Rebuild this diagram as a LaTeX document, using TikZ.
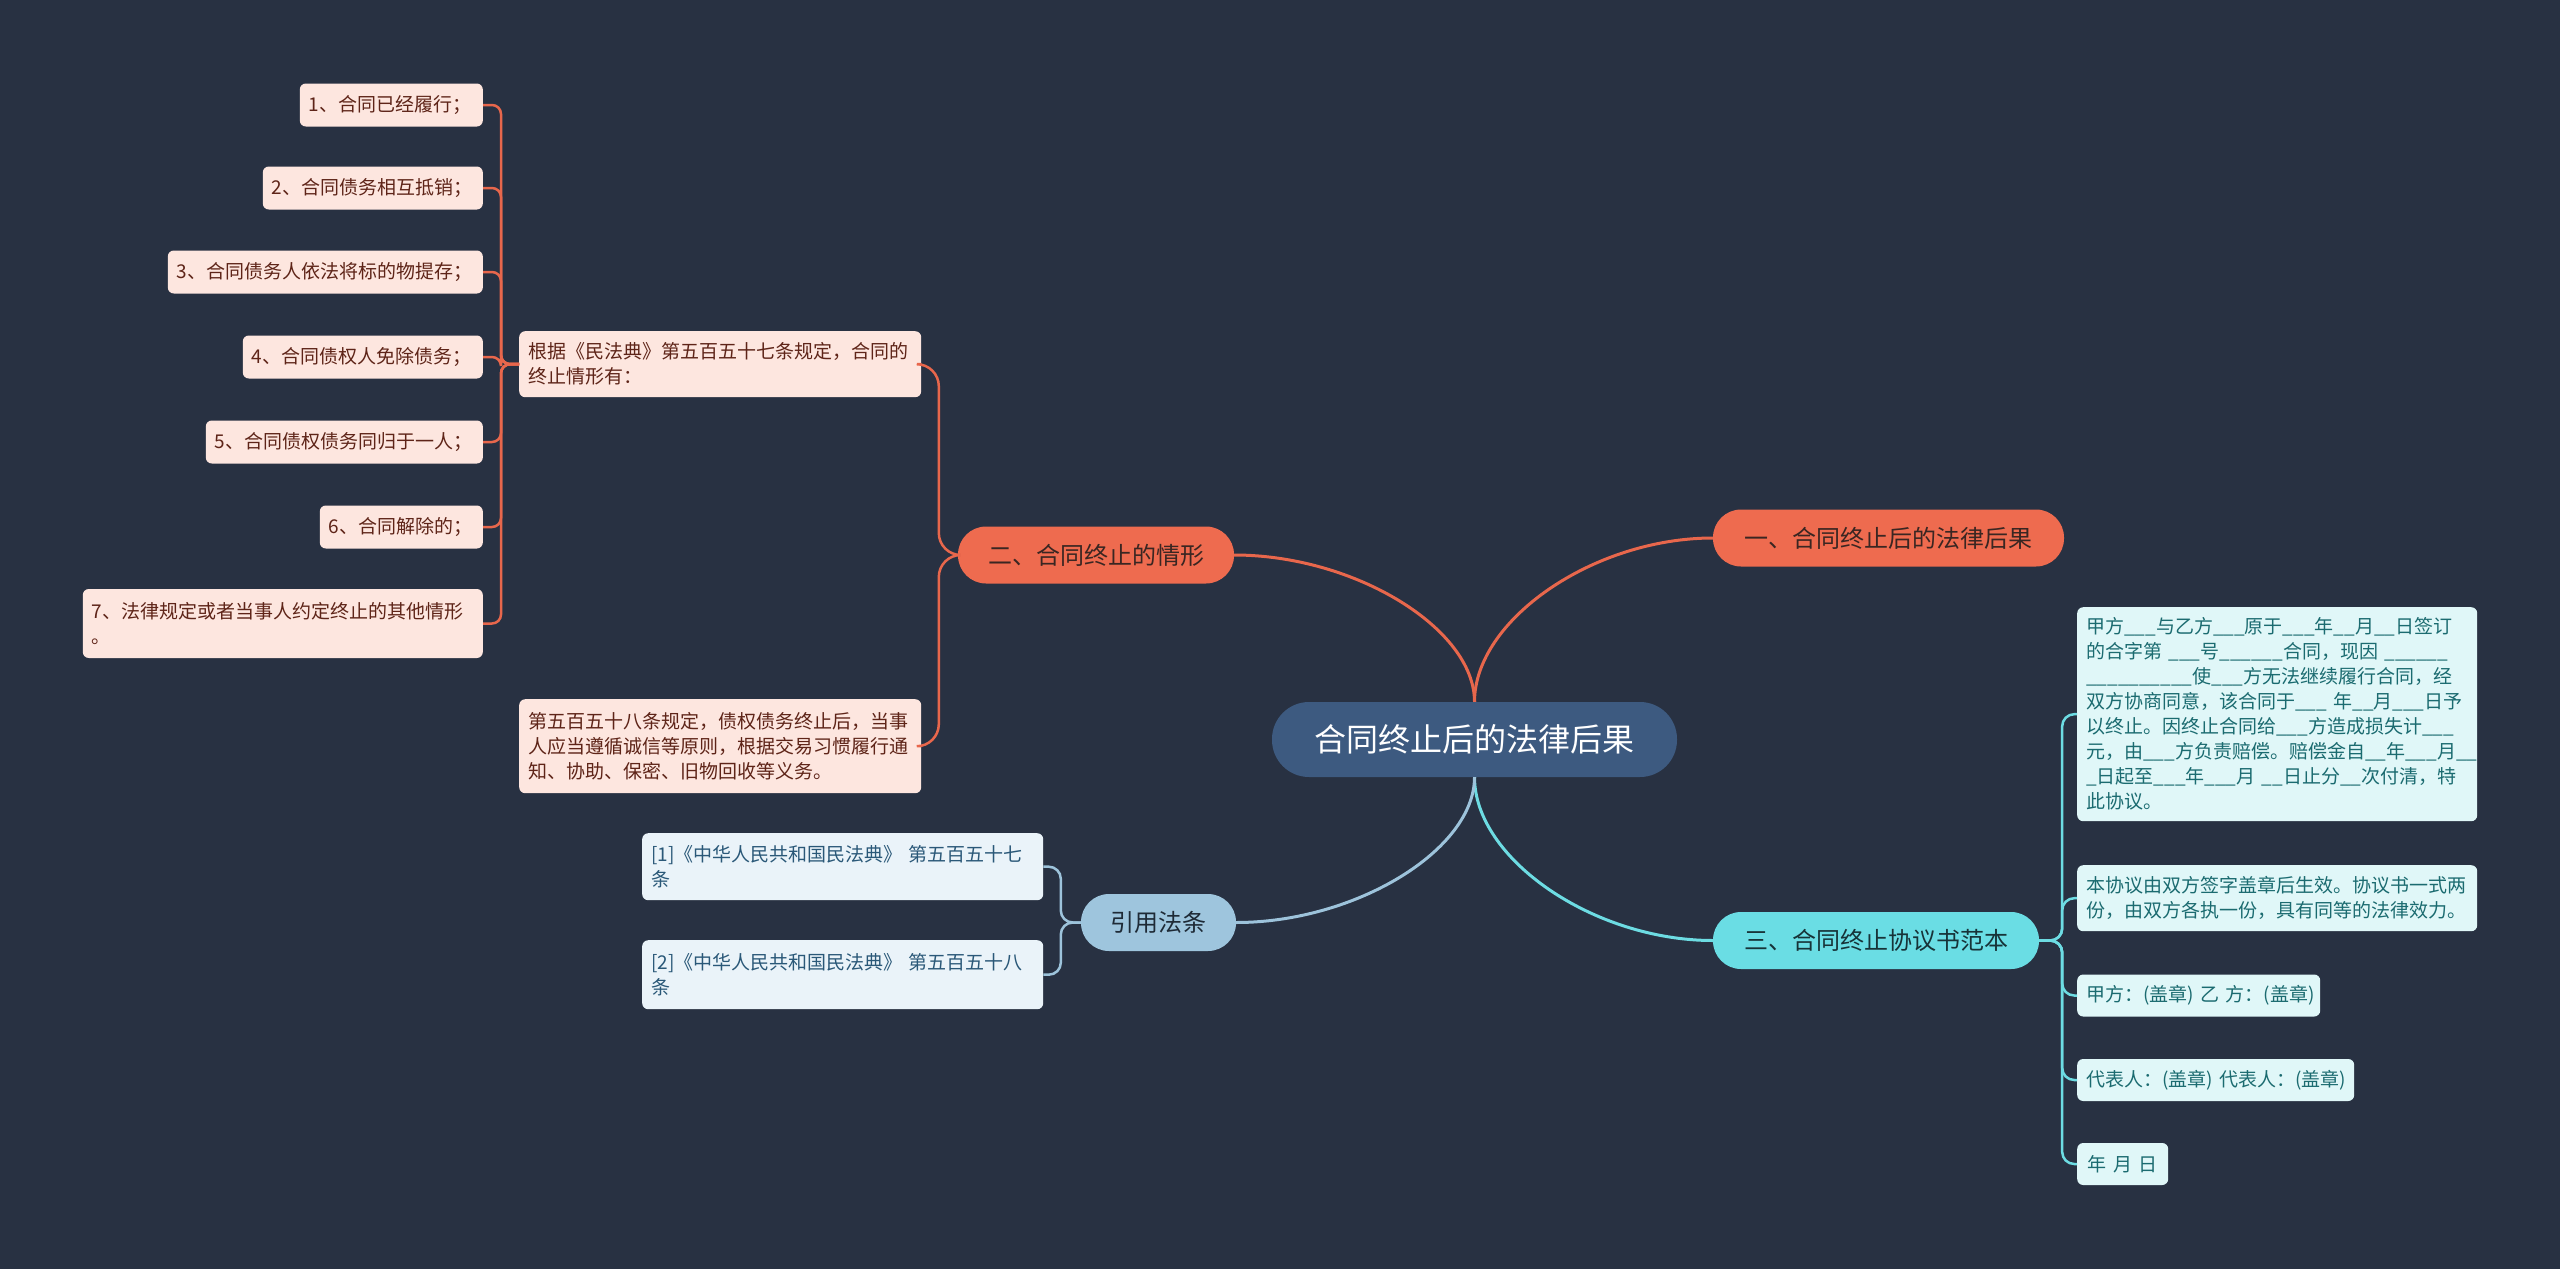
\documentclass[tikz,border=0pt]{standalone}
\usepackage{fontspec}
\usetikzlibrary{calc}
\setmainfont{Noto Sans CJK SC}
\definecolor{bg}{HTML}{283142}
\definecolor{ctrfill}{HTML}{3D5A80}
\definecolor{orng}{HTML}{EE6B4F}
\definecolor{orngline}{HTML}{E8674C}
\definecolor{orngtext}{HTML}{3A2622}
\definecolor{bfill}{HTML}{FDE6DF}
\definecolor{btext}{HTML}{5E2418}
\definecolor{cyanfill}{HTML}{6ADDE4}
\definecolor{cyanline}{HTML}{6DDCE3}
\definecolor{cyantext}{HTML}{173338}
\definecolor{cleaf}{HTML}{E0F7F8}
\definecolor{cltext}{HTML}{1B6B70}
\definecolor{bluefill}{HTML}{9EC5DD}
\definecolor{blueline}{HTML}{9DC3DB}
\definecolor{bluetext}{HTML}{1E2A36}
\definecolor{dleaf}{HTML}{EAF3F9}
\definecolor{dltext}{HTML}{2A5878}
\newcommand\leaffont{\fontsize{19}{25}\selectfont}
\newcommand\brfont{\fontsize{24}{30}\selectfont}
\newcommand\ctrfont{\fontsize{32}{38}\selectfont}
\newcommand\blank[1]{\foreach \i in {1,...,#1}{\_}}
\begin{document}
\begin{tikzpicture}[x=1pt,y=-1pt,
  every node/.style={inner sep=0pt},
  pill/.style={rounded corners=28pt, minimum height=57pt, align=center, font=\brfont},
  leaf/.style={rounded corners=6pt, inner xsep=9pt, inner ysep=0pt, align=left, font=\leaffont},
  leafB/.style={leaf, fill=bfill, text=btext},
  leafC/.style={leaf, fill=cleaf, text=cltext},
  leafD/.style={leaf, fill=dleaf, text=dltext},
  mainline/.style={line width=3pt},
  subline/.style={line width=2.5pt, rounded corners=#1},
  subline/.default=10pt]
\fill[bg] (0,0) rectangle (2560,1269);
\useasboundingbox (0,0) rectangle (2560,1269);

% central and main branches
\node[fill=ctrfill, text=white, rounded corners=37pt, minimum width=405pt, minimum height=75pt, font=\ctrfont] (ctr) at (1474.5,739.5) {合同终止后的法律后果};
\node[pill, fill=orng, text=orngtext, minimum width=351pt] (A) at (1888.5,538) {一、合同终止后的法律后果};
\node[pill, fill=orng, text=orngtext, minimum width=276pt] (B) at (1096,555) {二、合同终止的情形};
\node[pill, fill=cyanfill, text=cyantext, minimum width=326pt] (C) at (1876,940.5) {三、合同终止协议书范本};
\node[pill, fill=bluefill, text=bluetext, minimum width=155pt] (D) at (1158.5,922.5) {引用法条};

% branch B children
\node[leafB, anchor=north west, text width=384pt, minimum height=66pt] (B1) at (519,331) {根据《民法典》第五百五十七条规定，合同的\\终止情形有：};
\node[leafB, anchor=north west, text width=384pt, minimum height=94pt] (B2) at (519,699) {第五百五十八条规定，债权债务终止后，当事\\人应当遵循诚信等原则，根据交易习惯履行通\\知、协助、保密、旧物回收等义务。};

\node[leafB, anchor=east, text width=165pt, minimum height=43pt] (n1) at (483,105) {1、合同已经履行；};
\node[leafB, anchor=east, text width=202pt, minimum height=43pt] (n2) at (483,188) {2、合同债务相互抵销；};
\node[leafB, anchor=east, text width=297pt, minimum height=43pt] (n3) at (483,272) {3、合同债务人依法将标的物提存；};
\node[leafB, anchor=east, text width=222pt, minimum height=43pt] (n4) at (483,357) {4、合同债权人免除债务；};
\node[leafB, anchor=east, text width=259pt, minimum height=43pt] (n5) at (483,442) {5、合同债权债务同归于一人；};
\node[leafB, anchor=east, text width=145pt, minimum height=43pt] (n6) at (483,527) {6、合同解除的；};
\node[leafB, anchor=east, text width=382pt, minimum height=69pt] (n7) at (483,623.5) {7、法律规定或者当事人约定终止的其他情形\\。};

% branch C children
\node[leafC, anchor=north west, text width=382pt, minimum height=214pt] (C1) at (2077,607) {甲方\_\_\_与乙方\_\_\_原于\_\_\_年\_\_月\_\_日签订\\的合字第~\_\_\_号\_\_\_\_\_\_合同，现因~\_\_\_\_\_\_\\\_\_\_\_\_\_\_\_\_\_使\_\_\_方无法继续履行合同，经\\双方协商同意，该合同于\_\_\_~年\_\_月\_\_\_日予\\以终止。因终止合同给\_\_\_方造成损失计\_\_\_\\元，由\_\_\_方负责赔偿。赔偿金自\_\_年\_\_\_月\_\_\\\_日起至\_\_\_年\_\_\_月~\_\_日止分\_\_次付清，特\\此协议。};
\node[leafC, anchor=north west, text width=382pt, minimum height=66pt] (C2) at (2077,865) {本协议由双方签字盖章后生效。协议书一式两\\份，由双方各执一份，具有同等的法律效力。};
\node[leafC, anchor=west, text width=225pt, minimum height=42pt] (C3) at (2077,995.5) {甲方：(盖章)~乙~方：(盖章)};
\node[leafC, anchor=west, text width=259pt, minimum height=42pt] (C4) at (2077,1080) {代表人：(盖章)~代表人：(盖章)};
\node[leafC, anchor=west, text width=73pt, minimum height=42pt, align=center] (C5) at (2077,1164) {年~月~日};

% branch D children
\node[leafD, anchor=north west, text width=383pt, minimum height=67pt] (D1) at (642,833) {[1]《中华人民共和国民法典》~第五百五十七\\条};
\node[leafD, anchor=north west, text width=383pt, minimum height=69pt] (D2) at (642,940) {[2]《中华人民共和国民法典》~第五百五十八\\条};

% main connectors
\draw[mainline, orngline] (ctr.north) .. controls ($(ctr.north)!0.5!(ctr.north |- A.west)$) and ($(A.west)!0.5!(ctr.north |- A.west)$) .. (A.west);
\draw[mainline, orngline] (ctr.north) .. controls ($(ctr.north)!0.5!(ctr.north |- B.east)$) and ($(B.east)!0.5!(ctr.north |- B.east)$) .. (B.east);
\draw[mainline, cyanline] (ctr.south) .. controls ($(ctr.south)!0.5!(ctr.south |- C.west)$) and ($(C.west)!0.5!(ctr.south |- C.west)$) .. (C.west);
\draw[mainline, blueline] (ctr.south) .. controls ($(ctr.south)!0.5!(ctr.south |- D.east)$) and ($(D.east)!0.5!(ctr.south |- D.east)$) .. (D.east);

% B brackets
\foreach \t in {B1,B2}
  \draw[subline=22pt, orngline] (B.west) -- ++(-19,0) |- (\t.east);
\foreach \t in {n1,n2,n3,n4,n5,n6,n7}
  \draw[subline=9pt, orngline] (B1.west) -- ++(-18,0) |- (\t.east);

% C brackets
\foreach \t in {C1,C2,C3,C4,C5}
  \draw[subline=12pt, cyanline] (C.east) -- ++(23,0) |- (\t.west);

% D brackets
\foreach \t in {D1,D2}
  \draw[subline=12pt, blueline] (D.west) -- ++(-20,0) |- (\t.east);
\end{tikzpicture}
\end{document}
